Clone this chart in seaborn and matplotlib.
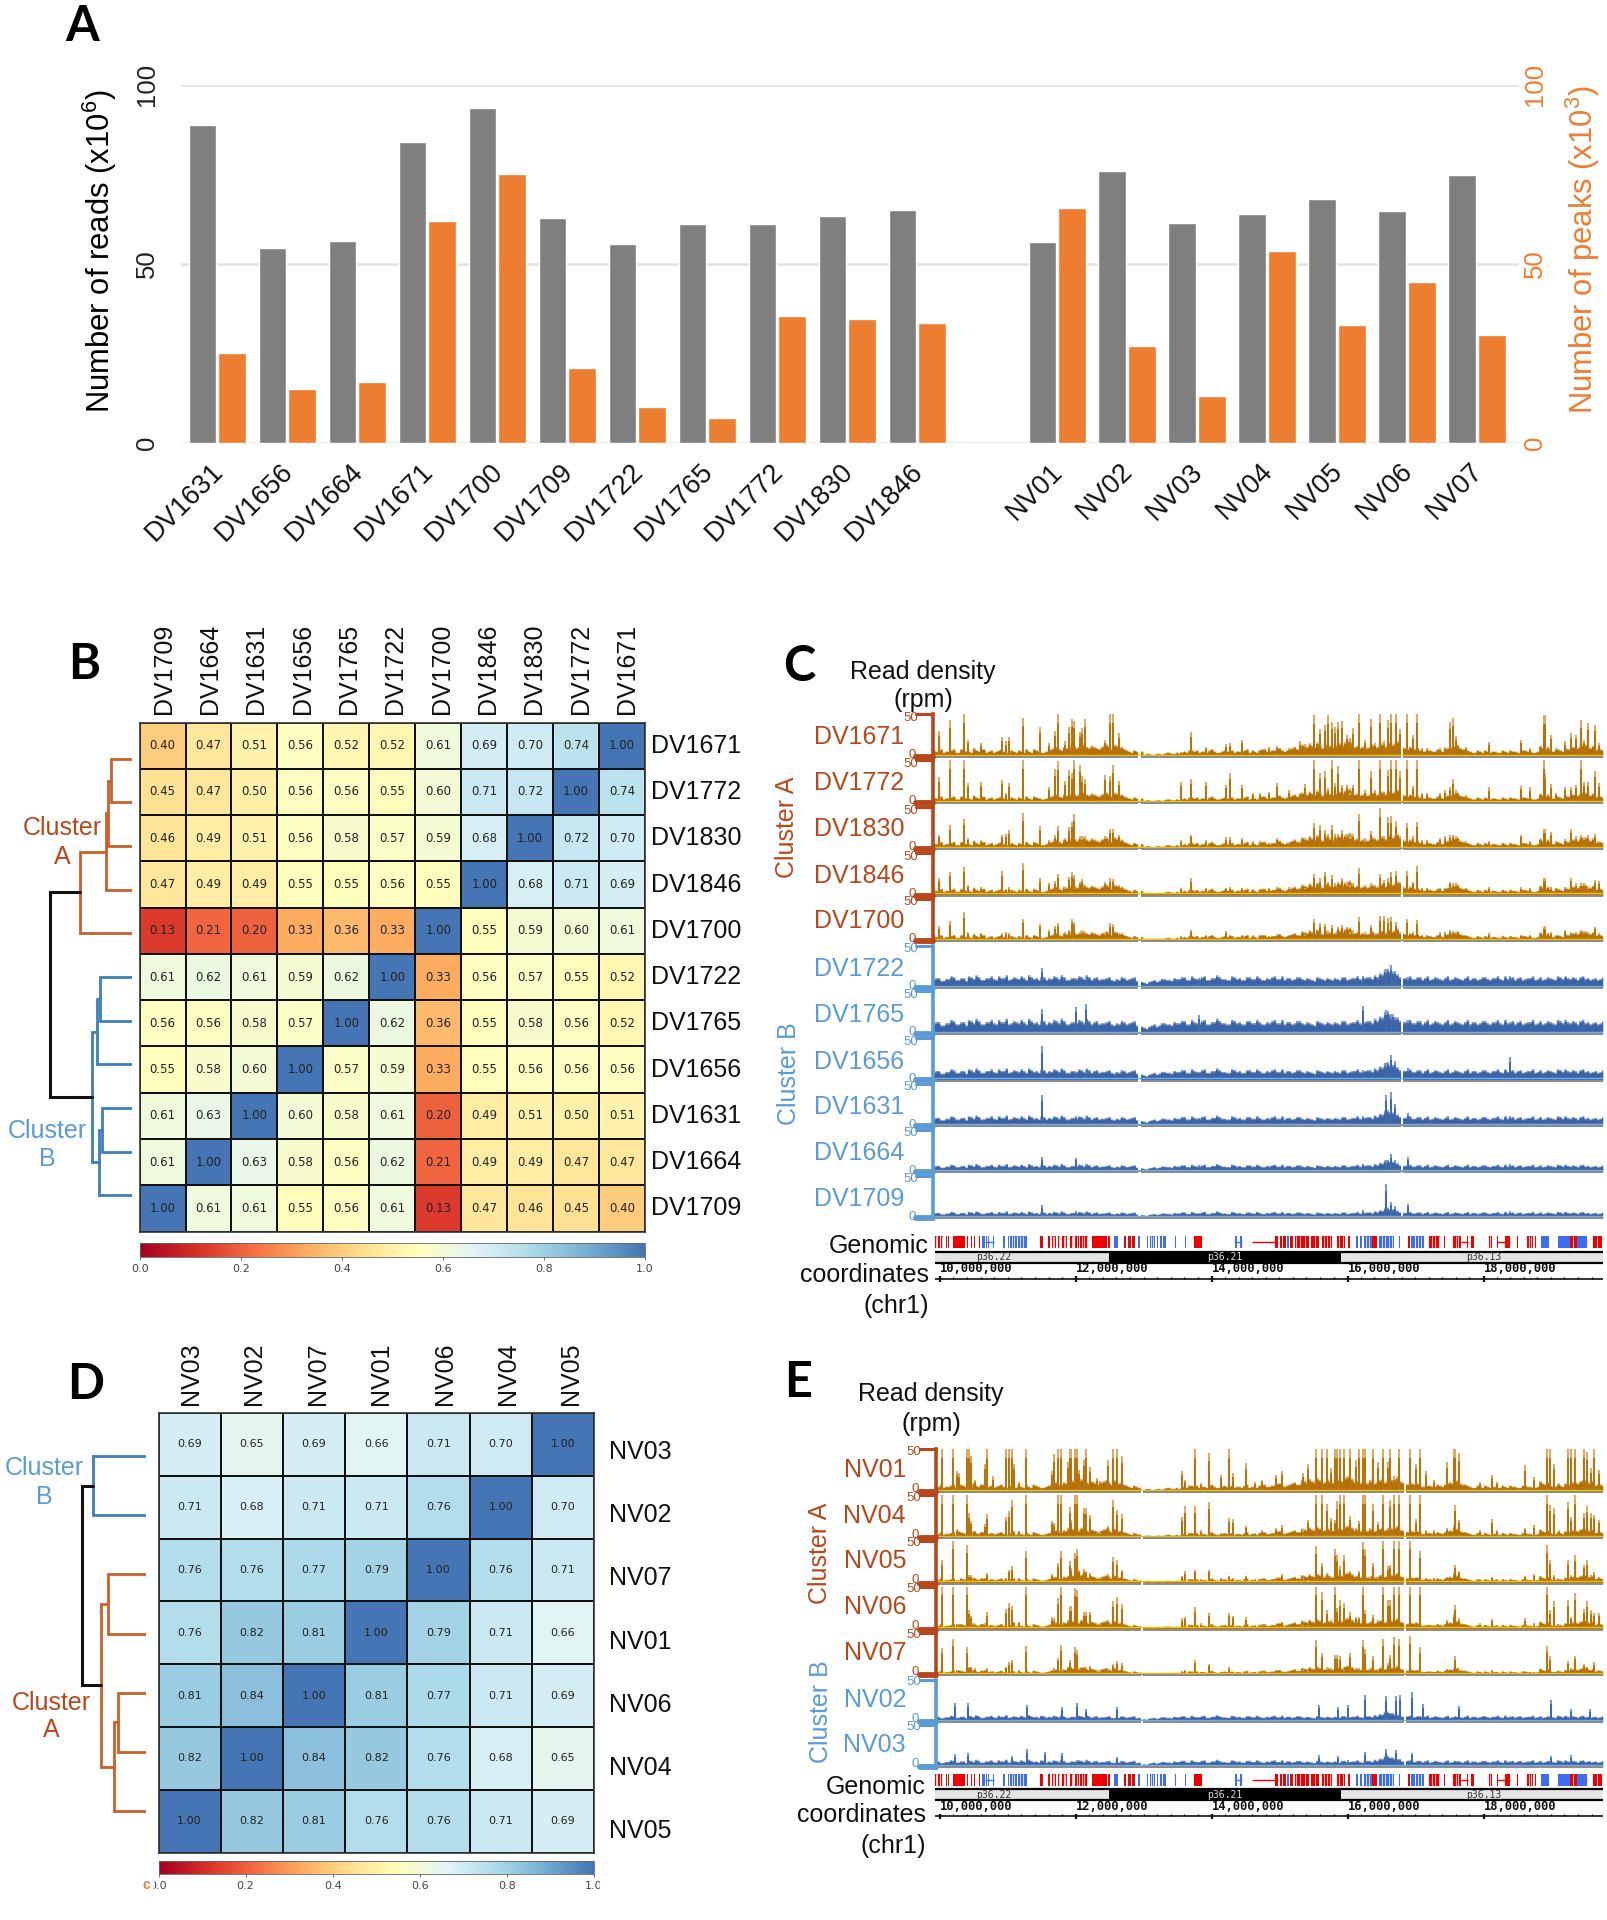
import numpy as np
import pandas as pd
import matplotlib
matplotlib.use("Agg")
import matplotlib.pyplot as plt
from matplotlib.colors import LinearSegmentedColormap
from matplotlib.patches import Rectangle
from matplotlib.transforms import ScaledTranslation
import seaborn as sns

W, H = 1607, 1920

# Panel A
samples = ["DV1631", "DV1656", "DV1664", "DV1671", "DV1700", "DV1709", "DV1722", "DV1765",
           "DV1772", "DV1830", "DV1846", " ", "NV01", "NV02", "NV03", "NV04", "NV05", "NV06", "NV07"]
reads = [88.7, 54.5, 56.5, 84, 93.5, 62.7, 55.5, 61, 61, 63.4, 65, np.nan, 56, 76, 61.3, 64, 68, 64.7, 74.7]
peaks = [25, 15, 17, 62, 75, 21, 10, 7, 35.5, 34.7, 33.5, np.nan, 65.5, 27, 13, 53.5, 33, 45, 30]

# Panel B
b_cols = ["DV1709", "DV1664", "DV1631", "DV1656", "DV1765", "DV1722", "DV1700", "DV1846", "DV1830", "DV1772", "DV1671"]
b_rows = b_cols[::-1]
b_matrix = [
    [.40, .47, .51, .56, .52, .52, .61, .69, .70, .74, 1],
    [.45, .47, .50, .56, .56, .55, .60, .71, .72, 1, .74],
    [.46, .49, .51, .56, .58, .57, .59, .68, 1, .72, .70],
    [.47, .49, .49, .55, .55, .56, .55, 1, .68, .71, .69],
    [.13, .21, .20, .33, .36, .33, 1, .55, .59, .60, .61],
    [.61, .62, .61, .59, .62, 1, .33, .56, .57, .55, .52],
    [.56, .56, .58, .57, 1, .62, .36, .55, .58, .56, .52],
    [.55, .58, .60, 1, .57, .59, .33, .55, .56, .56, .56],
    [.61, .63, 1, .60, .58, .61, .20, .49, .51, .50, .51],
    [.61, 1, .63, .58, .56, .62, .21, .49, .49, .47, .47],
    [1, .61, .61, .55, .56, .61, .13, .47, .46, .45, .40],
]
# (child, child, height), leaves are row numbers
b_tree_a = ((((0, 1, 20.5), 2, 23.4), 3, 25.4), 4, 51.2)
b_tree_b = (((5, 6, 31.2), 7, 35.1), ((8, 9, 29.3), 10, 32.7), 40.0)
b_root = 81.5

# Panel D
d_cols = ["NV03", "NV02", "NV07", "NV01", "NV06", "NV04", "NV05"]
d_rows = ["NV03", "NV02", "NV07", "NV01", "NV06", "NV04", "NV05"]
d_matrix = [
    [.69, .65, .69, .66, .71, .70, 1],
    [.71, .68, .71, .71, .76, 1, .70],
    [.76, .76, .77, .79, 1, .76, .71],
    [.76, .82, .81, 1, .79, .71, .66],
    [.81, .84, 1, .81, .77, .71, .69],
    [.82, 1, .84, .82, .76, .68, .65],
    [1, .82, .81, .76, .76, .71, .69],
]
d_tree_b = (0, 1, 53.7)
d_tree_a = ((2, 3, 38.0), ((4, 5, 28.8), 6, 32.7), 45.4)
d_root = 64.4

# Panels C and E: baseline read density (rpm) along the window, left to right,
# the _fine lists hold the bins that fall in between
orange_base = [6, 5, 4, 5, 7, 4, 6, 5, 8, 5, 7, 5, 4, 6, 5, 4, 5, 6, 4, 5, 7, 5, 4,
               6, 8, 7, 9, 8, 10, 9, 11, 8, 9, 7, 10, 9, 11, 8, 7, 5, 6, 4,
               2, 3, 2, 3, 3, 4, 3, 3,
               5, 6, 5, 4, 5, 6, 5, 4, 6, 5, 4, 5, 6, 4, 5, 6, 7, 5, 6, 8,
               5, 7, 9, 7, 10, 12, 9, 11, 9, 10, 8, 12, 13, 15, 9, 8, 10, 9, 8, 11, 9, 13, 12, 10, 8,
               9, 7, 6, 5, 6, 5, 6, 7, 9, 10, 8, 7,
               5, 4, 5, 6, 4, 5, 4, 5, 6, 5, 4, 6, 5, 4,
               10, 7, 6, 5, 6, 8, 7, 9, 10, 11, 8, 6, 7]
orange_fine = [5, 7, 5, 6, 4, 7, 5, 4, 6, 7, 4, 6, 5, 7, 4, 6, 4, 5, 7, 4, 6, 4, 5,
               7, 9, 6, 8, 11, 8, 12, 9, 10, 8, 9, 11, 7, 10, 9, 6, 4, 5, 5,
               3, 2, 3, 2, 4, 3, 4, 4,
               4, 6, 6, 5, 4, 7, 4, 5, 5, 6, 5, 4, 7, 5, 4, 7, 5, 6, 8, 6,
               6, 8, 7, 11, 9, 10, 13, 8, 12, 9, 11, 10, 14, 12, 10, 9, 8, 11, 9, 12, 10, 11, 14, 9, 7,
               8, 8, 5, 6, 5, 7, 5, 8, 8, 11, 7, 6,
               4, 6, 4, 5, 5, 4, 6, 4, 5, 4, 6, 5, 4, 5,
               8, 9, 5, 7, 5, 7, 9, 8, 11, 9, 10, 7, 6]
blue_base = [9, 11, 8, 10, 12, 9, 11, 13, 10, 12, 9, 11, 10, 13, 11, 9, 12, 10, 11, 14, 10, 9, 12,
             11, 13, 10, 12, 9, 11, 13, 10, 12, 11, 9, 10, 12, 8, 9, 11, 10, 12, 9,
             6, 7, 9, 8, 10, 9, 11, 10,
             12, 9, 11, 10, 13, 9, 11, 12, 10, 9, 12, 11, 9, 12, 10, 11, 9, 10, 13, 10,
             9, 11, 10, 12, 9, 10, 8, 11, 9, 10, 11, 9, 12, 10, 11, 10, 11, 12, 14, 16, 20, 18, 15, 12, 11,
             13, 10, 12, 11, 9, 12, 10, 11, 9, 12, 10, 11,
             9, 11, 10, 12, 9, 11, 10, 13, 11, 9, 12, 10, 11, 9,
             12, 10, 11, 9, 12, 13, 10, 11, 12, 10, 9, 11, 10]
blue_fine = [11, 8, 10, 13, 9, 11, 8, 12, 14, 9, 11, 13, 9, 11, 14, 10, 11, 13, 9, 12, 11, 13, 9,
             10, 12, 14, 9, 11, 10, 12, 14, 9, 12, 10, 11, 9, 10, 12, 9, 11, 8, 7,
             5, 8, 7, 10, 9, 8, 10, 12,
             9, 13, 10, 12, 9, 11, 14, 10, 9, 13, 10, 9, 12, 10, 13, 9, 11, 12, 10, 13,
             11, 9, 12, 10, 11, 9, 12, 10, 11, 9, 10, 12, 9, 11, 13, 9, 12, 10, 12, 15, 21, 18, 15, 11, 12,
             10, 12, 9, 13, 10, 11, 9, 13, 10, 11, 9, 13,
             11, 9, 12, 10, 11, 13, 9, 10, 12, 11, 9, 11, 13, 10,
             9, 12, 10, 13, 10, 11, 12, 9, 13, 11, 10, 9, 12]

c_pos = [9.977, 10.147, 10.342, 10.405, 10.60, 10.907, 10.956, 11.0, 11.205, 11.463, 11.585, 11.672, 11.72,
         11.828, 11.877, 11.92, 11.95, 12.043, 12.077, 12.116, 12.399, 12.472, 12.53, 12.608, 13.524, 13.67,
         13.875, 14.177, 14.226, 14.406, 14.572, 14.67,
         14.796, 14.918, 15.089, 15.25, 15.333, 15.454, 15.542, 15.615, 15.664, 15.722, 15.761, 15.805, 15.864,
         15.937, 15.99, 16.03, 16.122, 16.21, 16.288, 16.356, 16.429, 16.478, 16.541, 16.58, 16.658, 16.712,
         16.814, 16.902, 16.965, 17.038, 17.111, 17.306, 17.37, 17.452, 17.487, 17.535, 17.681, 18.013, 18.49,
         18.622, 18.817, 18.841, 18.919, 18.997, 19.124, 19.221, 19.29, 19.358, 19.407, 19.465, 19.563, 19.631]
dv1671 = [30, 43, 50, 20, 16, 23, 18, 23, 46, 35, 16, 30, 50, 18, 35, 44, 42, 29, 34, 44, 20, 50, 50, 28, 5, 29, 12, 15, 16, 20, 8, 8,
          12, 13, 10, 18, 15, 49, 33, 38, 49, 41, 35, 41, 42, 26, 22, 34, 50, 20, 44, 16, 50, 18, 43, 50, 50, 33, 50, 26, 50, 10, 10,
          10, 12, 41, 46, 24, 11, 17, 20, 10, 49, 49, 26, 10, 18, 28, 26, 43, 20, 40, 38, 16]
dv1772 = [30, 50, 50, 23, 24, 27, 12, 23, 50, 5, 19, 40, 49, 26, 39, 35, 50, 45, 31, 28, 33, 32, 44, 26, 24, 28, 24, 21, 35, 21, 12, 11,
          13, 23, 15, 11, 22, 50, 35, 37, 17, 50, 23, 43, 21, 21, 12, 21, 50, 15, 37, 15, 50, 13, 39, 50, 50, 37, 50, 20, 50, 12, 12,
          11, 15, 19, 28, 15, 9, 18, 20, 18, 50, 35, 22, 11, 19, 19, 21, 50, 24, 25, 38, 23]
dv1830 = [17, 28, 35, 13, 11, 17, 18, 22, 42, 27, 11, 16, 27, 13, 26, 32, 41, 15, 13, 15, 15, 24, 24, 17, 11, 17, 11, 14, 14, 13, 9, 9,
          7, 13, 7, 9, 13, 31, 28, 22, 18, 28, 18, 18, 22, 18, 15, 18, 41, 11, 21, 13, 48, 15, 38, 39, 33, 15, 31, 15, 32, 11, 11,
          13, 15, 16, 17, 15, 9, 9, 17, 9, 24, 24, 20, 9, 12, 24, 15, 16, 13, 16, 18, 9]
dv1846 = [21, 28, 34, 12, 10, 29, 8, 10, 38, 20, 15, 17, 25, 10, 22, 27, 24, 16, 19, 12, 16, 20, 19, 12, 9, 20, 9, 9, 10, 9, 8, 8,
          9, 10, 10, 9, 9, 25, 20, 28, 16, 24, 14, 16, 21, 14, 12, 14, 32, 12, 14, 12, 25, 18, 20, 27, 29, 16, 29, 16, 35, 9, 9,
          9, 9, 16, 14, 14, 9, 10, 10, 9, 21, 20, 10, 9, 10, 21, 14, 14, 14, 10, 18, 17]
dv1700 = [18, 24, 34, 11, 10, 9, 11, 9, 26, 20, 13, 18, 21, 11, 13, 26, 23, 11, 12, 10, 9, 21, 20, 9, 6, 13, 7, 12, 7, 7, 7, 7,
          6, 7, 7, 7, 7, 26, 21, 20, 11, 19, 10, 17, 19, 17, 11, 11, 28, 9, 19, 9, 29, 30, 27, 28, 22, 11, 26, 11, 25, 7, 7,
          11, 11, 13, 12, 11, 7, 9, 7, 7, 17, 18, 11, 7, 13, 11, 11, 13, 10, 11, 17, 9]

c_blue_pos = [11.48, 11.975, 12.13, 13.78, 16.17, 16.52, 16.58, 16.64, 16.83, 18.32]
dv1722 = [23, 12, 11, 12, 14, 22, 27, 20, 12, 14]
dv1765 = [29, 32, 35, 22, 33, 28, 22, 20, 16, 14]
dv1656 = [40, 10, 10, 10, 12, 20, 30, 23, 14, 27]
dv1631 = [37, 12, 10, 10, 12, 37, 40, 26, 15, 12]
dv1664 = [18, 17, 9, 8, 10, 14, 21, 14, 18, 9]
dv1709 = [15, 8, 7, 6, 9, 40, 19, 14, 16, 8]

e_pos = [10.03, 10.196, 10.245, 10.279, 10.396, 10.425, 10.459, 10.513, 10.654, 10.683, 10.771, 10.961, 11.01,
         11.054, 11.088, 11.161, 11.258, 11.634, 11.673, 11.726, 11.775, 11.868, 11.897, 11.921, 11.975, 12.0,
         12.038, 12.097, 12.14, 12.194, 12.291, 12.345, 12.452, 12.525, 12.579, 12.657, 13.53, 13.573, 13.724,
         13.817, 13.924, 14.109, 14.226, 14.28, 14.465, 14.596,
         14.699, 14.904, 14.991, 15.308, 15.381, 15.493, 15.581, 15.659, 15.708, 15.771, 15.805, 15.844, 15.908,
         15.99, 16.078, 16.127, 16.176, 16.21, 16.283, 16.332, 16.405, 16.478, 16.541, 16.58, 16.629, 16.707,
         16.868, 16.95, 17.014, 17.092, 17.209, 17.404, 17.501, 17.53, 17.584, 17.891, 18.057, 18.135, 18.539,
         18.671, 18.866, 18.905, 18.968, 19.046, 19.168, 19.212, 19.275, 19.411, 19.451, 19.514, 19.553, 19.631]
nv01 = [50, 50, 25, 22, 50, 50, 42, 14, 33, 50, 18, 50, 50, 50, 33, 12, 50, 24, 44, 50, 50, 35, 50, 50, 50, 50, 26, 38, 50, 29, 16, 13, 38, 50, 50, 42, 24, 14, 50, 10, 46, 20, 50, 22, 34, 12,
        14, 20, 25, 22, 33, 50, 50, 50, 28, 50, 50, 50, 50, 50, 37, 50, 50, 50, 14, 50, 35, 50, 35, 50, 18, 50, 50, 33, 50, 24, 14, 35, 50, 50, 46, 12, 20, 11, 31, 17, 50, 50, 33, 10, 50, 50, 50, 50, 47, 28, 50, 26]
nv04 = [50, 50, 10, 8, 50, 29, 20, 8, 16, 28, 5, 24, 31, 45, 8, 8, 50, 20, 17, 50, 50, 11, 36, 21, 50, 50, 9, 35, 35, 27, 5, 5, 14, 45, 33, 28, 24, 37, 37, 9, 42, 6, 23, 22, 14, 6,
        9, 12, 15, 9, 21, 50, 50, 40, 23, 21, 43, 50, 50, 26, 11, 20, 50, 50, 11, 40, 19, 50, 11, 45, 50, 50, 50, 22, 50, 9, 9, 12, 15, 39, 21, 9, 22, 9, 11, 15, 50, 39, 35, 9, 42, 24, 50, 29, 38, 29, 27, 21]
nv05 = [27, 50, 4, 4, 45, 10, 10, 6, 6, 12, 5, 6, 16, 20, 6, 6, 38, 11, 8, 24, 38, 9, 26, 18, 36, 41, 16, 17, 15, 12, 6, 6, 11, 31, 27, 16, 9, 14, 16, 5, 16, 6, 9, 6, 9, 5,
        4, 6, 11, 6, 4, 44, 24, 12, 8, 40, 33, 20, 33, 15, 9, 15, 49, 40, 6, 24, 6, 50, 20, 22, 50, 50, 50, 8, 38, 6, 6, 8, 12, 22, 15, 5, 8, 5, 9, 11, 45, 28, 10, 5, 27, 10, 33, 22, 27, 10, 13, 8]
nv06 = [50, 50, 6, 6, 50, 23, 16, 6, 7, 20, 5, 24, 31, 28, 9, 9, 50, 14, 13, 37, 50, 11, 27, 27, 49, 47, 8, 20, 20, 21, 6, 6, 11, 33, 38, 30, 13, 15, 26, 7, 19, 5, 19, 16, 14, 5,
        5, 5, 9, 5, 5, 50, 44, 23, 11, 50, 25, 35, 31, 20, 15, 15, 50, 23, 9, 17, 11, 50, 35, 35, 50, 50, 50, 9, 50, 5, 5, 11, 18, 29, 13, 7, 12, 5, 13, 7, 50, 23, 33, 5, 35, 15, 43, 24, 33, 23, 19, 19]
nv07 = [32, 43, 6, 6, 33, 10, 10, 8, 6, 8, 5, 10, 15, 18, 5, 6, 34, 6, 8, 20, 35, 10, 18, 10, 33, 30, 8, 10, 9, 11, 5, 5, 6, 13, 16, 14, 5, 6, 18, 4, 13, 4, 9, 4, 5, 4,
        4, 6, 4, 6, 5, 41, 26, 8, 8, 24, 24, 22, 6, 26, 8, 8, 41, 31, 8, 22, 6, 43, 14, 24, 45, 43, 46, 6, 33, 4, 4, 7, 8, 22, 6, 4, 6, 4, 4, 4, 34, 22, 4, 4, 16, 8, 23, 13, 10, 4, 15, 6]

e_blue_pos = [10.22, 10.41, 11.05, 11.27, 11.53, 11.78, 12.0, 12.13, 12.59, 15.54, 15.81, 15.96, 16.21, 16.52, 16.66, 16.72, 16.90, 17.05, 17.58, 18.92, 19.22, 19.5]
nv02 = [22, 22, 5, 20, 5, 17, 22, 15, 17, 20, 17, 20, 32, 30, 31, 32, 35, 21, 19, 26, 15, 15]
nv03 = [15, 16, 13, 21, 18, 16, 8, 7, 12, 14, 13, 8, 18, 21, 20, 10, 17, 6, 7, 13, 14, 7]

c_tracks = [("DV1671", dv1671, 1.25), ("DV1772", dv1772, 1.05), ("DV1830", dv1830, 1.2), ("DV1846", dv1846, 1.1), ("DV1700", dv1700, 1.0),
            ("DV1722", dv1722, 1.0), ("DV1765", dv1765, 1.2), ("DV1656", dv1656, 0.95), ("DV1631", dv1631, 0.85), ("DV1664", dv1664, 0.65), ("DV1709", dv1709, 0.55)]
e_tracks = [("NV01", nv01, 1.2), ("NV04", nv04, 0.95), ("NV05", nv05, 0.85), ("NV06", nv06, 0.9), ("NV07", nv07, 0.75),
            ("NV02", nv02, 0.55), ("NV03", nv03, 0.6)]

# Genes and chromosome bands (window position in Mb)
red_genes = [(9.918, 9.943), (9.967, 9.991), (10.006, 10.04), (10.079, 10.094), (10.113, 10.128), (10.186, 10.357), (10.381, 10.405),
             (10.44, 10.454), (10.493, 10.508), (10.566, 10.581), (11.453, 11.497), (11.575, 11.595), (11.624, 11.683), (11.712, 11.746),
             (11.775, 11.843), (11.892, 11.94), (11.965, 12.023), (12.043, 12.16), (12.209, 12.428), (12.452, 12.482), (12.686, 12.71),
             (12.745, 12.784), (12.803, 12.842), (13.71, 13.817), (14.894, 14.928), (14.967, 14.991), (15.0, 15.05), (15.113, 15.147),
             (15.186, 15.381), (15.42, 15.527), (15.576, 15.722), (15.795, 15.917), (15.956, 15.99), (16.307, 16.38), (16.829, 16.868),
             (17.136, 17.306), (17.355, 17.379), (17.491, 17.608), (17.696, 17.71), (17.755, 17.798), (18.013, 18.061), (18.135, 18.15),
             (18.25, 18.33), (18.427, 18.442), (18.573, 18.656), (18.695, 18.71), (19.207, 19.304), (19.533, 19.67)]
blue_genes = [(10.60, 10.65), (10.664, 10.678), (10.698, 10.708), (10.766, 10.78), (10.917, 10.942), (10.98, 11.0), (11.015, 11.112),
              (11.136, 11.258), (12.54, 12.6), (12.891, 12.915), (13.013, 13.037), (13.061, 13.135), (13.159, 13.183), (13.208, 13.232),
              (13.256, 13.29), (13.427, 13.447), (13.573, 13.593), (14.304, 14.328), (14.377, 14.402), (15.07, 15.099), (16.078, 16.098),
              (16.137, 16.161), (16.185, 16.307), (16.405, 16.624), (16.697, 16.721), (16.882, 16.93), (16.95, 17.062), (18.783, 18.89),
              (19.026, 19.207), (19.304, 19.45)]
red_introns = [(14.558, 14.894), (18.135, 18.33), (17.608, 17.71)]
blue_introns = [(10.65, 10.78), (14.304, 14.402), (19.304, 19.45)]
gene_stripes = [9.93, 10.02, 11.645, 11.665, 11.73, 11.80, 11.825, 11.915, 11.99, 12.07, 12.10, 12.135, 11.04, 11.08, 11.16, 11.2,
                13.08, 13.11, 15.2, 15.26, 15.33, 15.47, 15.6, 15.65, 15.7, 15.83, 15.88, 16.22, 16.26, 16.45, 16.5, 16.55, 16.6,
                16.98, 17.02, 17.18, 17.23, 17.28, 17.53, 17.57, 18.03, 18.6, 18.63, 19.25, 19.6]
band_names = ["p36.22", "p36.21", "p36.13"]
band_starts = [9.918, 12.467, 15.854]
band_ends = [12.467, 15.854, 19.68]
band_label_x = [10.77, 14.157, 17.94]
band_colors = ["#e4e4e4", "black", "#e4e4e4"]
coord_ticks = [9.99, 11.975, 13.97, 15.96, 17.95]
coord_labels = ["10,000,000", "12,000,000", "14,000,000", "16,000,000", "18,000,000"]

ORANGE = "#b8481c"
BLUE = "#5b9bd5"
GREY_BAR = "#7f7f7f"
ORANGE_BAR = "#ed7d31"

sns.set_theme(style="white")
plt.rcParams["font.family"] = ["Liberation Sans", "DejaVu Sans"]
plt.rcParams["mathtext.fontset"] = "custom"
plt.rcParams["mathtext.rm"] = "Liberation Sans"
plt.rcParams["mathtext.default"] = "regular"

fig = plt.figure(figsize=(W / 100, H / 100), dpi=100, facecolor="white")


def axpx(left, top, right, bottom, **kw):
    return fig.add_axes([left / W, 1 - bottom / H, (right - left) / W, (bottom - top) / H], **kw)


def ftext(x, y, s, **kw):
    kw.setdefault("ha", "center")
    kw.setdefault("va", "center")
    kw.setdefault("fontsize", 18)
    return fig.text(x / W, 1 - y / H, s, **kw)


def letter(x, y, s):
    ftext(x, y, s, ha="left", va="baseline", fontsize=35, fontweight="bold", family="Lato", color="black")


# ---------------------------
# A: bars
# ---------------------------
df = pd.DataFrame({"sample": samples * 2, "value": reads + peaks,
                   "kind": ["reads"] * len(samples) + ["peaks"] * len(samples)})
ax = axpx(181, 84.6, 1519, 443)
sns.barplot(data=df, x="sample", y="value", hue="kind", order=samples, hue_order=["reads", "peaks"],
            palette={"reads": GREY_BAR, "peaks": ORANGE_BAR}, saturation=1, width=0.84, gap=0.06,
            legend=False, ax=ax)
ax.set_xlim(-0.515, 18.6)
ax.set_ylim(0, 100)
ax.set_yticks([0, 50, 100])
ax.set_axisbelow(True)
ax.grid(axis="y", color="#e2e2e2", lw=1.8)
sns.despine(ax=ax, left=True, bottom=True)
ax.set_xlabel("")
ax.set_ylabel("")
ax.tick_params(axis="y", length=0, pad=16, labelsize=18.5, labelcolor="#222222", labelrotation=90)
for t in ax.get_yticklabels():
    t.set_va("center")
ax.tick_params(axis="x", length=0, pad=11)
x_shift = ScaledTranslation(-0.07, 0, fig.dpi_scale_trans)
for t in ax.get_xticklabels():
    t.set(rotation=45, ha="right", rotation_mode="anchor", fontsize=19.5, color="#111111")
    t.set_transform(t.get_transform() + x_shift)
ax2 = ax.twinx()
ax2.set_ylim(0, 100)
ax2.set_yticks([0, 50, 100])
ax2.tick_params(axis="y", length=0, pad=3, labelsize=18.5, labelcolor=ORANGE_BAR, labelrotation=90)
for t in ax2.get_yticklabels():
    t.set_va("center")
sns.despine(ax=ax2, left=True, bottom=True, right=True)
ftext(100, 251, r"Number of reads (x10$^{6}$)", rotation=90, fontsize=22.3, color="black")
ftext(1583, 250, r"Number of peaks (x10$^{3}$)", rotation=90, fontsize=22.3, color=ORANGE_BAR)

# ---------------------------
# B and D: heatmaps with dendrograms
# ---------------------------
heat_cmap = LinearSegmentedColormap.from_list("rdylbu10", ["#a50026", "#d73027", "#f46d43", "#fdae61", "#fee090",
                                                           "#ffffbf", "#e0f3f8", "#abd9e9", "#74add1", "#4575b4"])


def draw_heat(matrix, cols, rows, box, cbar_box, annot_size, label_pad_x, label_pad_y, col_off, col_step, row_off, row_step):
    ax = axpx(*box)
    cax = axpx(*cbar_box)
    frame = pd.DataFrame(matrix, index=rows, columns=cols)
    sns.heatmap(frame, ax=ax, cmap=heat_cmap, vmin=0, vmax=1, annot=True, fmt=".2f",
                annot_kws={"size": annot_size, "color": "#222222", "family": "DejaVu Sans"},
                linewidths=1.4, linecolor="#111111", cbar_ax=cax, cbar_kws={"orientation": "horizontal", "ticks": [0, .2, .4, .6, .8, 1]})
    ax.xaxis.tick_top()
    ax.yaxis.tick_right()
    ax.tick_params(axis="x", length=0, pad=label_pad_x, labelsize=18, labelrotation=90, labelcolor="#111111")
    ax.tick_params(axis="y", length=0, pad=label_pad_y, labelsize=18, labelrotation=0, labelcolor="#111111")
    # the label columns of the source are spaced a little wider than the cells
    for i, t in enumerate(ax.get_xticklabels()):
        t.set_transform(t.get_transform() + ScaledTranslation((col_off + i * col_step) / 100, 0, fig.dpi_scale_trans))
    for i, t in enumerate(ax.get_yticklabels()):
        t.set_va("center")
        t.set_transform(t.get_transform() + ScaledTranslation(0, -(row_off + i * row_step) / 100, fig.dpi_scale_trans))
    for s in ax.spines.values():
        s.set_visible(True)
        s.set_color("#333333")
        s.set_linewidth(1.2)
    cax.tick_params(axis="x", length=2, width=0.6, pad=3, labelsize=8, labelcolor="#444444", color="#555555")
    for t in cax.get_xticklabels():
        t.set_family("DejaVu Sans")
    outline = ax.collections[0].colorbar.outline
    outline.set_edgecolor("#666666")
    outline.set_linewidth(0.6)
    return ax, cax


def draw_node(ax, node, color, lw=2.0):
    if not isinstance(node, tuple):
        return node, 0
    left, right, h = node
    y1, h1 = draw_node(ax, left, color, lw)
    y2, h2 = draw_node(ax, right, color, lw)
    ax.plot([h1, h, h, h2], [y1, y1, y2, y2], color=color, lw=lw, solid_joinstyle="miter")
    return (y1 + y2) / 2, h


def draw_dendro(box, n, tree_top, tree_bottom, col_top, col_bottom, root):
    ax = axpx(*box)
    ax.set_xlim(box[2], 0)
    ax.set_ylim(n - 0.5, -0.5)
    ax.axis("off")
    y1, h1 = draw_node(ax, tree_top, col_top)
    y2, h2 = draw_node(ax, tree_bottom, col_bottom)
    ax.plot([h1, root, root, h2], [y1, y1, y2, y2], color="#111111", lw=2.2, solid_joinstyle="miter")


draw_heat(b_matrix, b_cols, b_rows, (139.6, 722.6, 645, 1231.5), (139.6, 1242.5, 645, 1257), 8.5, 6, 4, 1.2, 0.37, 0, 0)
draw_dendro((0, 737, 131.7, 1217), 11, b_tree_a, b_tree_b, "#c8622a", "#3d7fb8", b_root)

draw_heat(d_matrix, d_cols, d_rows, (158.5, 1413, 594, 1852.5), (158.5, 1861, 594, 1874), 8, 6, 10.5, 1.2, 1.23, 7.5, 0.42)
draw_dendro((0, 1426.7, 146.3, 1840.5), 7, d_tree_b, d_tree_a, "#3d7fb8", "#c8622a", d_root)

ftext(62.6, 828, "Cluster", color=ORANGE)
ftext(62.6, 857.5, "A", color=ORANGE)
ftext(47, 1130.7, "Cluster", color=BLUE)
ftext(47, 1159.3, "B", color=BLUE)
ftext(44, 1468, "Cluster", color=BLUE)
ftext(44, 1497, "B", color=BLUE)
ftext(51, 1702.5, "Cluster", color=ORANGE)
ftext(51, 1730, "A", color=ORANGE)
# the colour bar labels of D are cut off at both ends in the source
fig.add_artist(Rectangle((140 / W, 1 - 1898 / H), 13 / W, 20 / H, transform=fig.transFigure, color="white", zorder=5))
fig.add_artist(Rectangle((600 / W, 1 - 1898 / H), 20 / W, 20 / H, transform=fig.transFigure, color="white", zorder=5))
ftext(146.4, 1885, "c", color=ORANGE_BAR, fontsize=10, fontweight="bold", zorder=6)

# ---------------------------
# C and E: read density tracks
# ---------------------------
TRACK_H = 42.3
PITCH = 46.4
RIGHT_PX = 1602.7
RIGHT_MB = 19.68
orange_style = {"dark": "#b56f00", "light": "#d9ab69", "mid": "#f2c200", "axis": ORANGE}
blue_style = {"dark": "#3a63a8", "light": "#7f99c9", "mid": "#6fb0e6", "axis": BLUE}
orange_bins = np.ravel(np.column_stack([orange_base, orange_fine]))
blue_bins = np.ravel(np.column_stack([blue_base, blue_fine]))


def draw_track(x0, zero, profile, level, pos, heights, style, xlim, gaps, first):
    top_y = 50 * PITCH / TRACK_H
    ax = axpx(x0, zero - PITCH, RIGHT_PX, zero + 1.8)
    ax.set_xlim(*xlim)
    ax.set_ylim(-1.8 * 50 / TRACK_H, top_y)
    ax.patch.set_alpha(0)
    base = profile * level
    xs = np.linspace(9.9, RIGHT_MB, len(base))
    ax.fill_between(xs, 0, base * 1.1, step="mid", color=style["light"], lw=0)
    ax.fill_between(xs, 0, base * 0.95, step="mid", color=style["dark"], lw=0)
    pos = np.array(pos)
    heights = np.array(heights, dtype=float)
    ax.vlines(pos, 0, heights, color=style["light"], lw=1.5)
    ax.vlines(pos, 0, heights * 0.8, color=style["dark"], lw=1.3)
    ax.plot(xs, np.full(len(xs), 2.2), color=style["mid"], lw=1.0)
    ax.axhline(-0.4, color="#8c8c8c", lw=1.4)
    for g0, g1 in gaps:
        ax.axvspan(g0, g1, color="white", lw=0)
    ax.set_xticks([])
    ax.set_yticks([])
    for name, s in ax.spines.items():
        s.set_visible(name == "left")
    ax.spines["left"].set_color(style["axis"])
    ax.spines["left"].set_linewidth(2.6)
    ax.spines["left"].set_bounds(-1.2, 50 if first else top_y)
    # bracket ticks at 50 and 0
    ax.plot([-0.025, 0], [50, 50], transform=ax.get_yaxis_transform(), color=style["axis"], lw=2.2, clip_on=False)
    ax.plot([-0.025, 0], [-0.3, -0.3], transform=ax.get_yaxis_transform(), color=style["axis"], lw=4.2, clip_on=False)


def draw_genome(offset):
    ax = axpx(925, 1232 + offset, RIGHT_PX, 1292 + offset)
    ax.set_xlim(9.772, RIGHT_MB)
    ax.set_ylim(60, 0)
    ax.axis("off")
    ax.broken_barh([(a, b - a) for a, b in blue_genes], (4, 12), color="#3d6df2", lw=0)
    ax.broken_barh([(a, b - a) for a, b in red_genes], (4, 12), color="#f00000", lw=0)
    ax.hlines([10] * len(blue_introns), [a for a, b in blue_introns], [b for a, b in blue_introns], color="#3d6df2", lw=1)
    ax.hlines([10] * len(red_introns), [a for a, b in red_introns], [b for a, b in red_introns], color="#f00000", lw=1)
    ax.vlines(gene_stripes, 4, 16, color="white", lw=0.7, alpha=0.8)
    for name, b0, b1, lab_x, col in zip(band_names, band_starts, band_ends, band_label_x, band_colors):
        ax.broken_barh([(b0, b1 - b0)], (20, 10), color=col, lw=0)
        ax.text(lab_x, 25.5, name, fontsize=7, family="DejaVu Sans Mono", ha="center", va="center",
                color="#dddddd" if col == "black" else "#333333")
    ax.hlines([19.5, 30.5], 9.918, RIGHT_MB, color="black", lw=1.6)
    for m, s in zip(coord_ticks, coord_labels):
        ax.text(m, 36.7, s, fontsize=8.7, family="DejaVu Sans Mono", fontweight="bold", ha="left", va="center", color="#111111")
    ax.hlines(46.7, 9.92, RIGHT_MB, color="#111111", lw=1.2)
    ax.vlines(np.arange(9.99, RIGHT_MB, 0.1985), 44.5, 46.7, color="#111111", lw=1.0)
    ax.vlines(coord_ticks, 44, 49.5, color="#111111", lw=1.6)


c_zero = [756.7, 802.7, 849, 895.3, 941, 987.8, 1033.8, 1080.2, 1126, 1172, 1218]
e_zero = [1491.7, 1537.7, 1583.3, 1629.3, 1675, 1721.8, 1767]
c_gaps = [(12.895, 12.93), (16.736, 16.76)]
e_gaps = [(12.94, 12.97), (16.78, 16.80)]

for i, (name, hts, level) in enumerate(c_tracks):
    is_a = i < 5
    draw_track(932.5, c_zero[i], orange_bins if is_a else blue_bins, level, c_pos if is_a else c_blue_pos, hts,
               orange_style if is_a else blue_style, (9.885, RIGHT_MB), c_gaps, i in (0, 5))
    col = ORANGE if is_a else BLUE
    ftext(904.5, c_zero[i] - (19.5 if is_a else 18.5), name, ha="right", color=col)
    ftext(911, c_zero[i] - 38.5, "50", color=col, fontsize=9.5)
    ftext(912, c_zero[i] - 1.5, "0", color=col, fontsize=9.5)

for i, (name, hts, level) in enumerate(e_tracks):
    is_a = i < 5
    draw_track(936.3, e_zero[i], orange_bins if is_a else blue_bins, level, e_pos if is_a else e_blue_pos, hts,
               orange_style if is_a else blue_style, (9.947, RIGHT_MB), e_gaps, i in (0, 5))
    col = ORANGE if is_a else BLUE
    ftext(906, e_zero[i] - 22, name, ha="right", color=col)
    ftext(913.8, e_zero[i] - 40, "50", color=col, fontsize=9.5)
    ftext(915, e_zero[i] - 3, "0", color=col, fontsize=9.5)

draw_genome(0)
draw_genome(537.5)

ftext(787, 827.4, "Cluster A", rotation=90, color=ORANGE)
ftext(789, 1073.7, "Cluster B", rotation=90, color=BLUE)
ftext(820, 1553, "Cluster A", rotation=90, color=ORANGE)
ftext(821, 1711.8, "Cluster B", rotation=90, color=BLUE)

ftext(923, 671.5, "Read density", color="#111111")
ftext(923, 699.5, "(rpm)", color="#111111")
ftext(931, 1394, "Read density", color="#111111")
ftext(931, 1423.5, "(rpm)", color="#111111")

for y, s in zip([1246, 1274.5, 1306], ["Genomic", "coordinates", "(chr1)"]):
    ftext(929, y, s, ha="right", color="#111111")
for y, s in zip([1786.5, 1815, 1846.5], ["Genomic", "coordinates", "(chr1)"]):
    ftext(925.6, y, s, ha="right", color="#111111")

letter(65, 41, "A")
letter(68, 679, "B")
letter(783, 681, "C")
letter(67, 1399, "D")
letter(784, 1397, "E")

fig.savefig("out.png", dpi=100)
